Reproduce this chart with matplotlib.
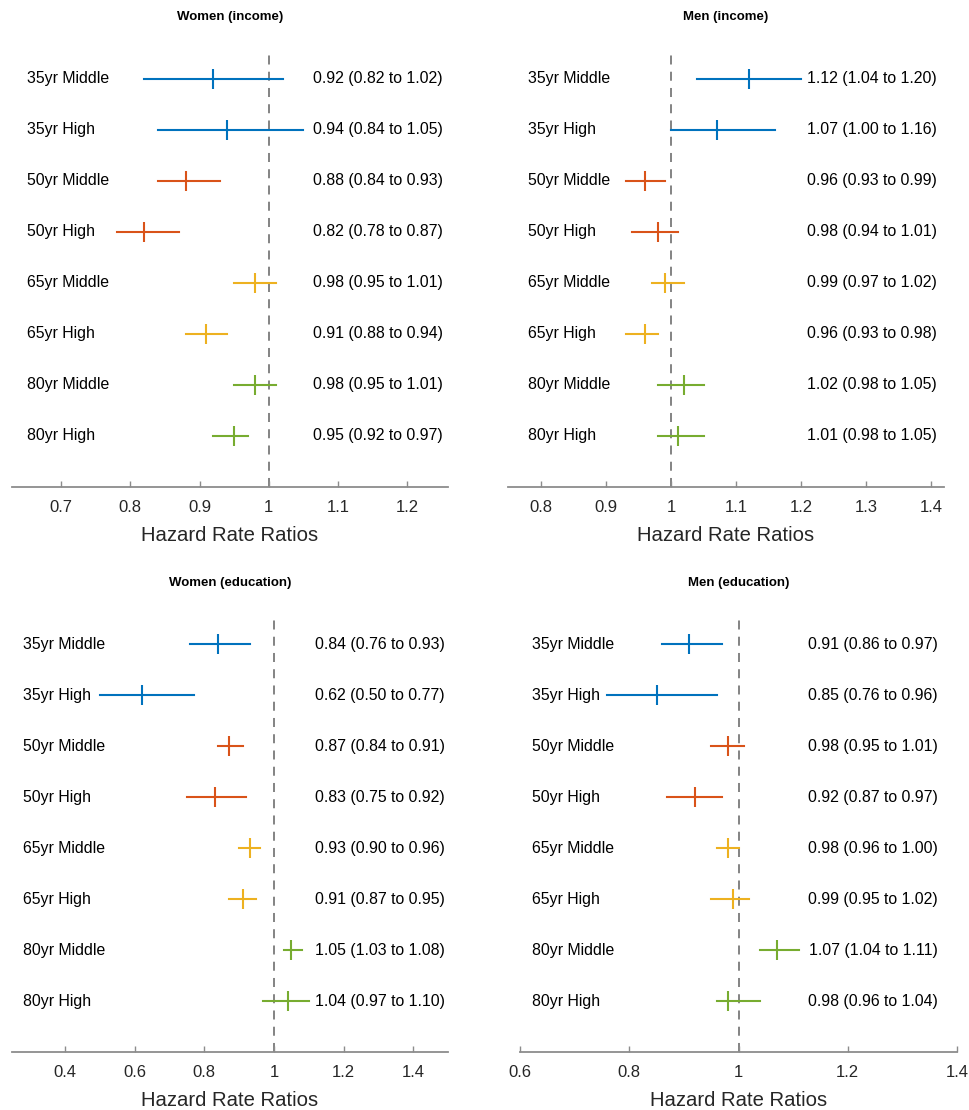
import matplotlib
matplotlib.use('Agg')
import matplotlib.pyplot as plt
import matplotlib.transforms as mtransforms
import numpy as np

plt.rcParams['font.family'] = ['Liberation Sans', 'DejaVu Sans']

rows = ['35yr Middle', '35yr High', '50yr Middle', '50yr High',
        '65yr Middle', '65yr High', '80yr Middle', '80yr High']

titles = ['Women (income)', 'Men (income)', 'Women (education)', 'Men (education)']

women_income_est = [0.92, 0.94, 0.88, 0.82, 0.98, 0.91, 0.98, 0.95]
women_income_lo = [0.82, 0.84, 0.84, 0.78, 0.95, 0.88, 0.95, 0.92]
women_income_hi = [1.02, 1.05, 0.93, 0.87, 1.01, 0.94, 1.01, 0.97]

men_income_est = [1.12, 1.07, 0.96, 0.98, 0.99, 0.96, 1.02, 1.01]
men_income_lo = [1.04, 1.00, 0.93, 0.94, 0.97, 0.93, 0.98, 0.98]
men_income_hi = [1.20, 1.16, 0.99, 1.01, 1.02, 0.98, 1.05, 1.05]

women_edu_est = [0.84, 0.62, 0.87, 0.83, 0.93, 0.91, 1.05, 1.04]
women_edu_lo = [0.76, 0.50, 0.84, 0.75, 0.90, 0.87, 1.03, 0.97]
women_edu_hi = [0.93, 0.77, 0.91, 0.92, 0.96, 0.95, 1.08, 1.10]

men_edu_est = [0.91, 0.85, 0.98, 0.92, 0.98, 0.99, 1.07, 0.98]
men_edu_lo = [0.86, 0.76, 0.95, 0.87, 0.96, 0.95, 1.04, 0.96]
men_edu_hi = [0.97, 0.96, 1.01, 0.97, 1.00, 1.02, 1.11, 1.04]

x_ticks = [
    [0.7, 0.8, 0.9, 1.0, 1.1, 1.2],
    [0.8, 0.9, 1.0, 1.1, 1.2, 1.3, 1.4],
    [0.4, 0.6, 0.8, 1.0, 1.2, 1.4],
    [0.6, 0.8, 1.0, 1.2, 1.4],
]

# MATLAB default colour order, one colour per age group
age_colors = ['#0072BD', '#0072BD', '#D95319', '#D95319',
              '#EDB120', '#EDB120', '#77AC30', '#77AC30']

panels = [
    (women_income_est, women_income_lo, women_income_hi),
    (men_income_est, men_income_lo, men_income_hi),
    (women_edu_est, women_edu_lo, women_edu_hi),
    (men_edu_est, men_edu_lo, men_edu_hi),
]

# layout: axes rect in pixels, xlim, label x / value-text x in axes fraction
W, H = 969, 1110
layout = [
    dict(rect=(12, 53, 436, 434), xlim=(0.629, 1.259), lx=0.034, rx=0.9885),
    dict(rect=(508, 53, 436, 434), xlim=(0.749, 1.420), lx=0.046, rx=0.984),
    dict(rect=(12, 619, 436, 433), xlim=(0.248, 1.500), lx=0.025, rx=0.993),
    dict(rect=(520, 619, 437, 433), xlim=(0.600, 1.400), lx=0.027, rx=0.9565),
]

axis_grey = '#8c8c8c'
text_col = '#262626'

fig = plt.figure(figsize=(W / 100, H / 100), dpi=100)

for i, (est, lo, hi) in enumerate(panels):
    lay = layout[i]
    px, py, pw, ph = lay['rect']
    ax = fig.add_axes([px / W, 1 - (py + ph) / H, pw / W, ph / H])
    y = np.arange(1, len(rows) + 1)

    ax.axvline(1.0, color='#7a7a7a', ls=(0, (5, 4)), lw=1.3, zorder=1)

    for j in range(len(rows)):
        c = age_colors[j]
        ax.plot([lo[j], hi[j]], [y[j], y[j]], color=c, lw=1.5, zorder=3)
        ax.plot(est[j], y[j], marker='|', color=c, markersize=14,
                markeredgewidth=1.5, zorder=4)
        ax.text(lay['lx'], y[j], rows[j], transform=ax.get_yaxis_transform(),
                ha='left', va='center', fontsize=11.4, color='black')
        txt = '{:.2f} ({:.2f} to {:.2f})'.format(est[j], lo[j], hi[j])
        ax.text(lay['rx'], y[j], txt, transform=ax.get_yaxis_transform(),
                ha='right', va='center', fontsize=11.4, color='black')

    ax.set_xlim(*lay['xlim'])
    ax.set_ylim(9, 0.5)
    ax.set_xticks(x_ticks[i])
    ax.set_xticklabels(['{:g}'.format(t) for t in x_ticks[i]])
    ax.set_yticks([])
    for s in ['top', 'right', 'left']:
        ax.spines[s].set_visible(False)
    ax.spines['bottom'].set_color(axis_grey)
    ax.spines['bottom'].set_linewidth(1.3)
    ax.tick_params(axis='x', direction='in', length=4.5, width=1.0,
                   color=axis_grey, labelsize=12, labelcolor=text_col, pad=9.5)
    ax.set_xlabel('Hazard Rate Ratios', fontsize=14.6, color=text_col, labelpad=8)

    off = mtransforms.offset_copy(ax.transAxes, fig=fig, x=0, y=26, units='points')
    ax.text(0.5, 1.0, titles[i], transform=off, ha='center', va='center',
            fontsize=9.5, fontweight='bold', color='black')

plt.savefig('out.png', dpi=100)
